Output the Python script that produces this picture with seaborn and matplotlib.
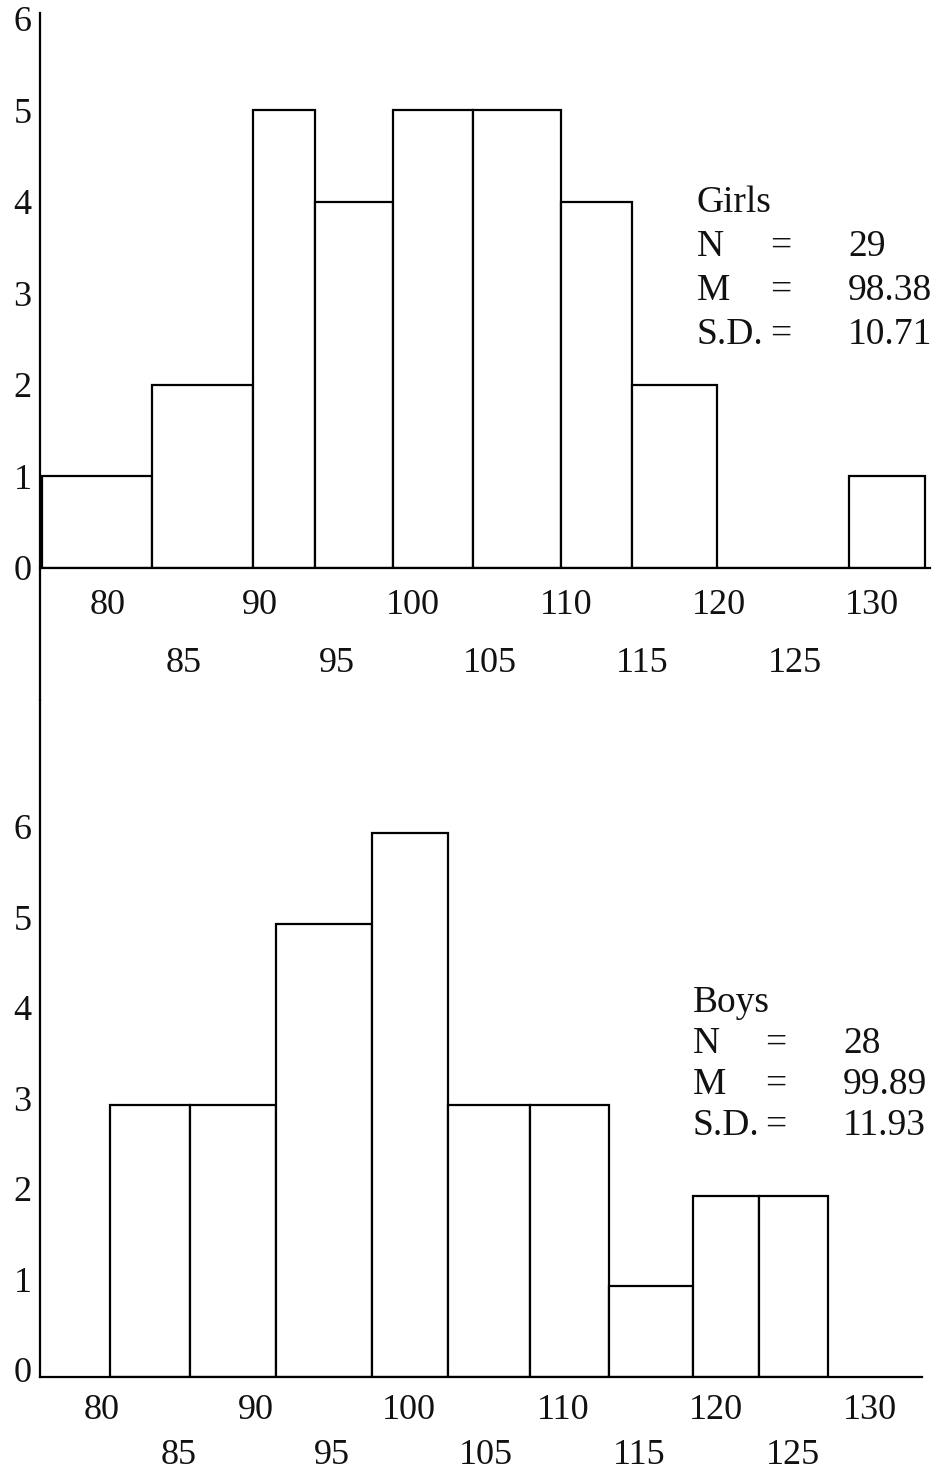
import matplotlib
matplotlib.use("Agg")
import matplotlib.pyplot as plt
import matplotlib.transforms as mtransforms
import seaborn as sns

# ---------------
# data
girls_edges = [75.7, 82.9, 89.5, 93.6, 98.7, 103.9, 109.7, 114.3, 119.9, 128.5, 133.5]
girls_counts = [1, 2, 5, 4, 5, 5, 4, 2, 0, 1]
boys_edges = [80.5, 85.7, 91.3, 97.6, 102.5, 107.9, 113.0, 118.5, 122.8, 127.3]
boys_counts = [3, 3, 5, 6, 3, 3, 1, 2, 2]

major_ticks = [80, 90, 100, 110, 120, 130]
minor_ticks = [85, 95, 105, 115, 125]
y_ticks = [0, 1, 2, 3, 4, 5, 6]

girls_stats = [("N", "29"), ("M", "98.38"), ("S.D.", "10.71")]
boys_stats = [("N", "28"), ("M", "99.89"), ("S.D.", "11.93")]

sns.set_style("white")
plt.rcParams["font.family"] = ["Liberation Serif", "DejaVu Serif"]

W, H = 937, 1475
fig = plt.figure(figsize=(W / 100, H / 100), dpi=100)
fig.patch.set_facecolor("white")


def frac_box(left, right, top, bottom):
    # pixel box -> figure fraction
    return [left / W, 1 - bottom / H, (right - left) / W, (bottom - top) / H]


ax1 = fig.add_axes(frac_box(40, 930, 13, 568))
ax2 = fig.add_axes(frac_box(40, 922, 700, 1377))


def mids(edges):
    return [(a + b) / 2 for a, b in zip(edges[:-1], edges[1:])]


for ax, edges, counts in [(ax1, girls_edges, girls_counts), (ax2, boys_edges, boys_counts)]:
    sns.histplot(x=mids(edges), weights=counts, bins=edges, ax=ax,
                 color="white", edgecolor="black", linewidth=1.6, alpha=1)
    ax.set_facecolor("none")
    ax.set_ylabel("")
    ax.set_xlabel("")
    for s in ["top", "right"]:
        ax.spines[s].set_visible(False)
    for s in ["left", "bottom"]:
        ax.spines[s].set_color("black")
        ax.spines[s].set_linewidth(1.6)
    ax.set_xticks(major_ticks)
    ax.set_xticklabels([str(t) for t in major_ticks])
    ax.set_xticks(minor_ticks, minor=True)
    ax.set_xticklabels([str(t) for t in minor_ticks], minor=True)
    ax.set_yticks(y_ticks)
    ax.set_yticklabels([str(t) for t in y_ticks])
    ax.tick_params(axis="both", which="both", length=0, labelsize=26, colors="#111111")
    ax.tick_params(axis="y", pad=6)

ax1.set_xlim(75.6, 133.8)
ax1.set_ylim(0, 555 / 91.5)
ax1.tick_params(axis="x", which="major", pad=15)
ax1.tick_params(axis="x", which="minor", pad=57)
# y axis runs on down to the lower chart
ax1.spines["left"].set_bounds(-132 / 91.5, 555 / 91.5)

ax2.set_xlim(75.96, 133.4)
ax2.set_ylim(0, 677 / 90.6)
ax2.tick_params(axis="x", which="major", pad=12)
ax2.tick_params(axis="x", which="minor", pad=45)
# lower chart's count labels sit a little above their lines
lift = mtransforms.ScaledTranslation(0, 7 / 100, fig.dpi_scale_trans)
for lab in ax2.get_yticklabels():
    lab.set_transform(lab.get_transform() + lift)


def stats_block(title, rows, x0, x_eq, x_val, y0, step):
    fig.text(x0 / W, 1 - y0 / H, title, fontsize=27, va="baseline", ha="left", color="#111111")
    for i, (lab, val) in enumerate(rows):
        y = 1 - (y0 + step * (i + 1)) / H
        fig.text(x0 / W, y, lab, fontsize=27, va="baseline", ha="left", color="#111111")
        fig.text(x_eq / W, y, "=", fontsize=27, va="baseline", ha="center", color="#111111")
        fig.text(x_val / W, y, val, fontsize=27, va="baseline", ha="left", color="#111111")


stats_block("Girls", girls_stats, 697, 781, 848, 212, 44)
stats_block("Boys", boys_stats, 693, 776, 843, 1012, 41)

fig.savefig("out.png", dpi=100)
